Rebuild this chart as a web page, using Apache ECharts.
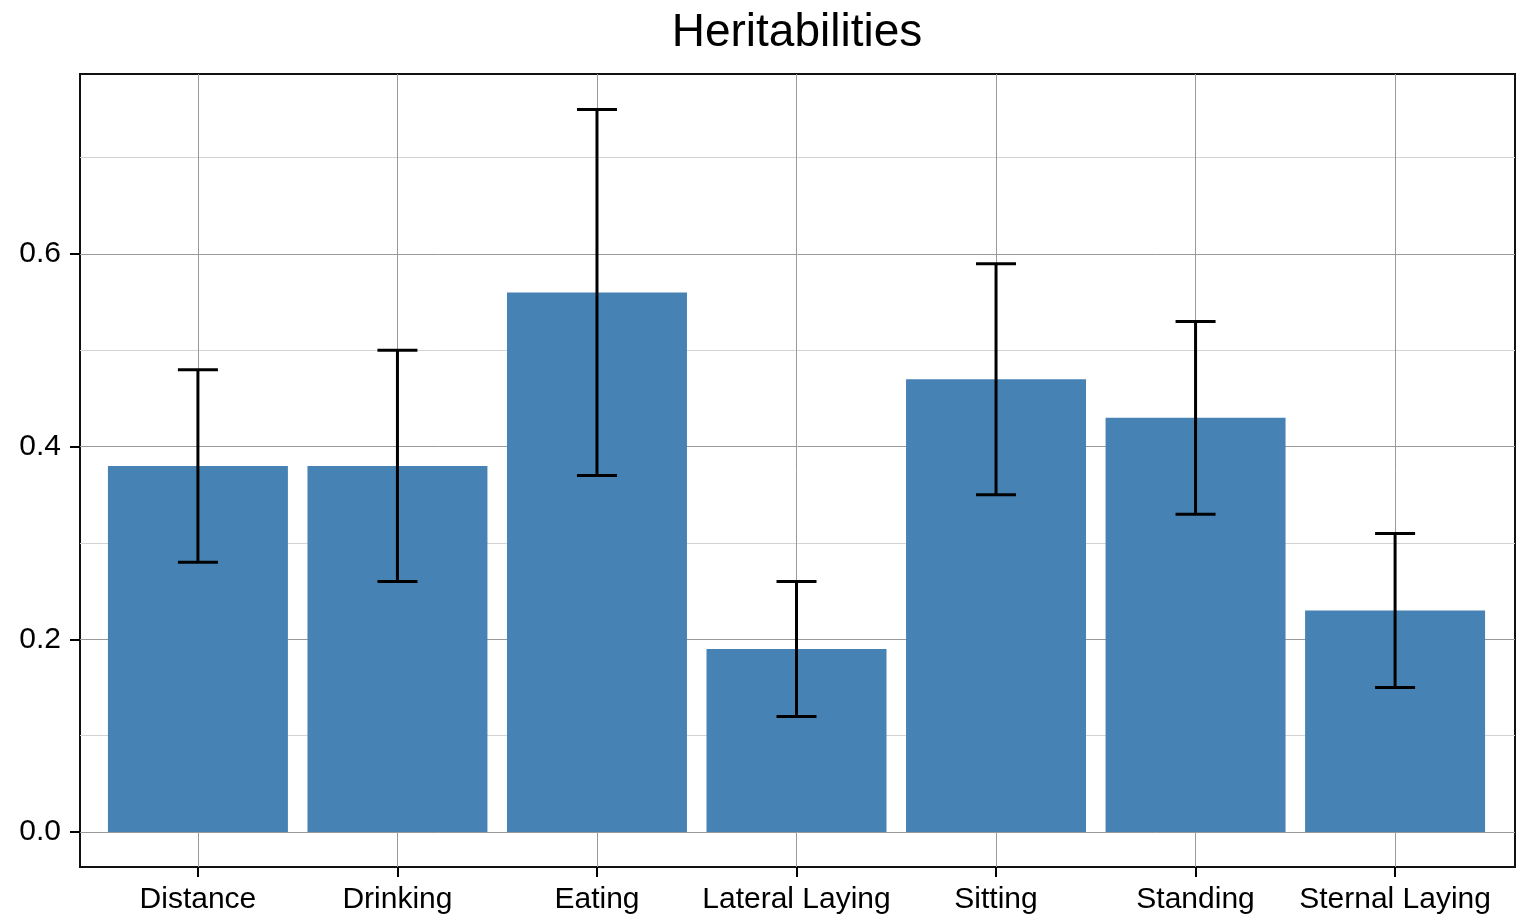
<!DOCTYPE html>
<html>
<head>
<meta charset="utf-8">
<script src="https://cdn.jsdelivr.net/npm/echarts@6/dist/echarts.min.js"></script>
<style>html,body{margin:0;padding:0;background:#fff;}#chart{width:1522px;height:916px;}</style>
</head>
<body>
<div id="chart"></div>
<script>
const categories = ['Distance', 'Drinking', 'Eating', 'Lateral Laying', 'Sitting', 'Standing', 'Sternal Laying'];
const heritability = [0.38, 0.38, 0.56, 0.19, 0.47, 0.43, 0.23];
const lowerBound = [0.28, 0.26, 0.37, 0.12, 0.35, 0.33, 0.15];
const upperBound = [0.48, 0.50, 0.75, 0.26, 0.59, 0.53, 0.31];
const yMajorTicks = [0, 0.2, 0.4, 0.6];
const yMinorTicks = [0.1, 0.3, 0.5, 0.7];
const yLabels = ['0.0', '0.2', '0.4', '0.6'];

const catIdx = categories.map((c, i) => i);
const FONT = 'Liberation Sans, Arial, Helvetica, sans-serif';

const chart = echarts.init(document.getElementById('chart'));
chart.setOption({
  backgroundColor: '#ffffff',
  animation: false,
  title: {
    text: 'Heritabilities', left: 792, top: 5, textAlign: 'center',
    textStyle: { fontFamily: FONT, fontSize: 46, fontWeight: 'normal', color: '#000' }
  },
  grid: { left: 80, right: 7, top: 74, bottom: 49, show: true, borderColor: '#111', borderWidth: 2, backgroundColor: 'transparent' },
  xAxis: {
    type: 'value', min: -0.591, max: 6.601,
    axisLine: { show: false, onZero: false },
    axisTick: { show: true, inside: false, length: 10, customValues: catIdx, lineStyle: { color: '#000', width: 2 } },
    axisLabel: {
      customValues: catIdx, margin: 18, fontFamily: FONT, fontSize: 30, color: '#000',
      formatter: v => categories[Math.round(v)]
    },
    splitLine: { show: true, customValues: catIdx, lineStyle: { color: '#999', width: 1 } }
  },
  yAxis: [{
    type: 'value', min: -0.0363, max: 0.7869, position: 'left',
    axisLine: { show: false, onZero: false },
    axisTick: { show: true, inside: false, length: 10, customValues: yMajorTicks, lineStyle: { color: '#000', width: 2 } },
    axisLabel: {
      customValues: yMajorTicks, margin: 19, fontFamily: FONT, fontSize: 30, color: '#000',
      formatter: v => yLabels[yMajorTicks.findIndex(t => Math.abs(t - v) < 1e-6)]
    },
    splitLine: { show: true, customValues: yMajorTicks, lineStyle: { color: '#999', width: 1 } }
  }, {
    type: 'value', min: -0.0363, max: 0.7869, position: 'left',
    axisLine: { show: false, onZero: false },
    axisTick: { show: false, customValues: yMinorTicks },
    axisLabel: { show: false, customValues: yMinorTicks },
    splitLine: { show: true, customValues: yMinorTicks, lineStyle: { color: '#d3d3d3', width: 1 } }
  }],
  series: [{
    type: 'custom', name: 'bars', yAxisIndex: 0, z: 2,
    data: heritability.map((v, i) => [i, v]),
    encode: { x: 0, y: 1 },
    renderItem: (params, api) => {
      const x = api.value(0), v = api.value(1);
      const p0 = api.coord([x - 0.451, v]);
      const p1 = api.coord([x + 0.451, 0]);
      return { type: 'rect', shape: { x: p0[0], y: p0[1], width: p1[0] - p0[0], height: p1[1] - p0[1] }, style: { fill: '#4682B4' } };
    }
  }, {
    type: 'custom', name: 'errors', yAxisIndex: 0, z: 3,
    data: lowerBound.map((lo, i) => [i, lo, upperBound[i]]),
    encode: { x: 0, y: [1, 2] },
    renderItem: (params, api) => {
      const x = api.value(0);
      const lo = api.coord([x, api.value(1)]);
      const hi = api.coord([x, api.value(2)]);
      const hw = 20;
      const st = { stroke: '#000', lineWidth: 3 };
      return { type: 'group', children: [
        { type: 'line', shape: { x1: lo[0], y1: lo[1], x2: hi[0], y2: hi[1] }, style: st },
        { type: 'line', shape: { x1: lo[0] - hw, y1: lo[1], x2: lo[0] + hw, y2: lo[1] }, style: st },
        { type: 'line', shape: { x1: hi[0] - hw, y1: hi[1], x2: hi[0] + hw, y2: hi[1] }, style: st }
      ]};
    }
  }]
});
</script>
</body>
</html>
